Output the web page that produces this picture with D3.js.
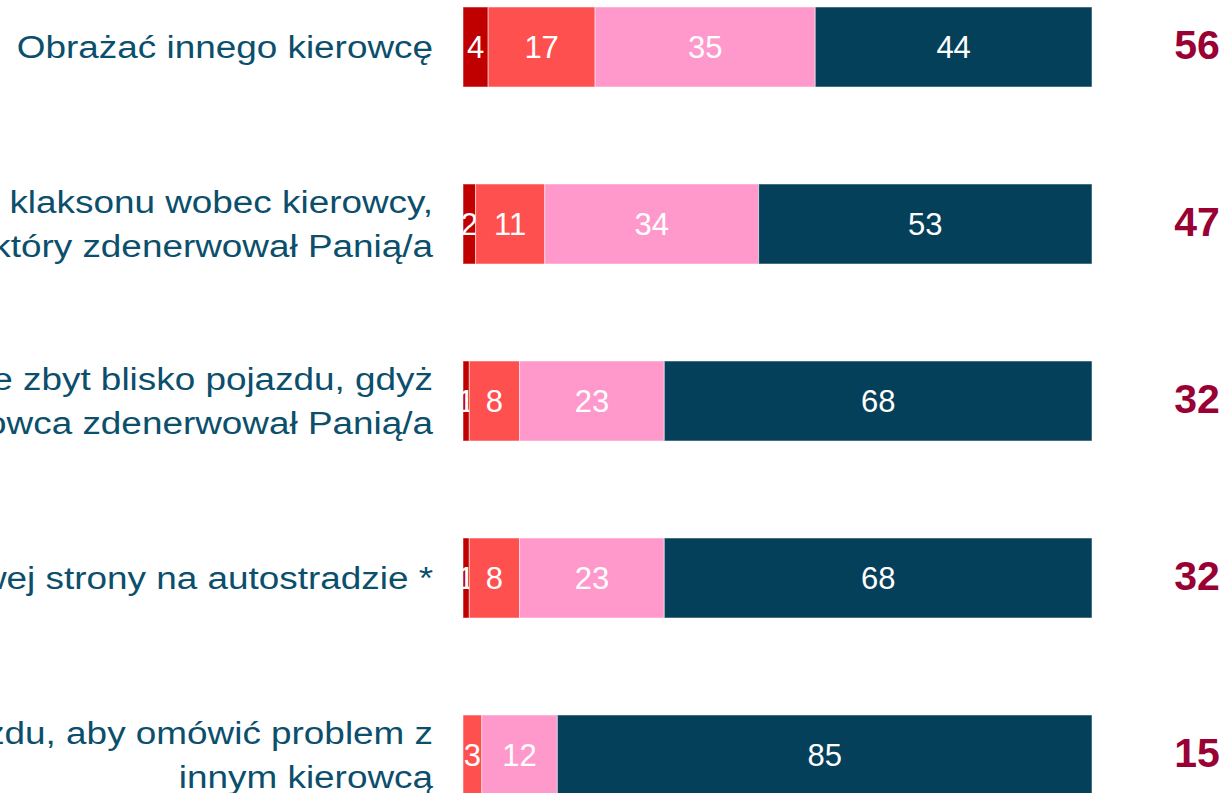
<!DOCTYPE html>
<html>
<head>
<meta charset="utf-8">
<script src="https://cdn.jsdelivr.net/npm/d3@7"></script>
<style>
  body { margin: 0; background: #fff; }
  svg { display: block; font-family: "Liberation Sans", Arial, sans-serif; }
</style>
</head>
<body>
<div id="chart"></div>
<script>
// Set dimensions
const width = 1230;
const height = 793;

// Data
const categories = [
  ["Obrażać innego kierowcę"],
  ["Używać klaksonu wobec kierowcy,", "który zdenerwował Panią/a"],
  ["Jechać specjalnie zbyt blisko pojazdu, gdyż", "jego kierowca zdenerwował Panią/a"],
  ["Wyprzedzać z prawej strony na autostradzie *"],
  ["Zatrzymać się i wysiąść z pojazdu, aby omówić problem z", "innym kierowcą"]
];
const often = [4, 2, 1, 1, 0];
const sometimes = [17, 11, 8, 8, 3];
const rarely = [35, 34, 23, 23, 12];
const never = [44, 53, 68, 68, 85];
const totals = [56, 47, 32, 32, 15];

const seriesKeys = ["often", "sometimes", "rarely", "never"];
const colors = ["#C00000", "#FF5050", "#FF99CC", "#05405A"];

const rows = categories.map((c, i) => ({
  idx: i,
  often: often[i], sometimes: sometimes[i], rarely: rarely[i], never: never[i]
}));

const svg = d3.select("#chart")
  .append("svg")
  .attr("width", width)
  .attr("height", height);

const x = d3.scaleLinear().domain([0, 100]).range([463, 1092]);
const y = d3.scaleBand()
  .domain(d3.range(categories.length))
  .range([7, 795])
  .paddingInner(0.548)
  .paddingOuter(0);

const stack = d3.stack().keys(seriesKeys);
const layers = stack(rows);

const layer = svg.selectAll("g.layer")
  .data(layers)
  .enter()
  .append("g")
  .attr("fill", (d, i) => colors[i]);

layer.selectAll("rect")
  .data(d => d.filter(s => s[1] - s[0] > 0))
  .enter()
  .append("rect")
  .attr("x", d => x(d[0]))
  .attr("y", d => y(d.data.idx))
  .attr("width", d => x(d[1]) - x(d[0]))
  .attr("height", y.bandwidth())
  .attr("stroke", "#fff")
  .attr("stroke-opacity", 0.5)
  .attr("stroke-width", 1);

// Value labels inside segments
layer.selectAll("text")
  .data(d => d.filter(s => s[1] - s[0] > 0))
  .enter()
  .append("text")
  .attr("x", d => (x(d[0]) + x(d[1])) / 2)
  .attr("y", d => y(d.data.idx) + y.bandwidth() / 2)
  .attr("dy", "0.34em")
  .attr("text-anchor", "middle")
  .attr("fill", "#fff")
  .style("font-size", "31px")
  .text(d => d[1] - d[0]);

// Category labels (text in the slide is a bit wider than Arial, so stretch it)
const labels = svg.selectAll("text.cat")
  .data(categories)
  .enter()
  .append("text")
  .attr("class", "cat")
  .attr("text-anchor", "end")
  .attr("fill", "#0B4F6C")
  .style("font-size", "31px")
  .attr("transform", (d, i) => `translate(433,${y(i) + y.bandwidth() / 2}) scale(1.19,1)`);

labels.each(function(lines) {
  const lh = 44;
  const start = -(lines.length - 1) * lh / 2;
  d3.select(this).selectAll("tspan")
    .data(lines)
    .enter()
    .append("tspan")
    .attr("x", 0)
    .attr("y", (d, j) => start + j * lh)
    .attr("dy", "0.34em")
    .text(d => d);
});

// Totals on the right
svg.selectAll("text.total")
  .data(totals)
  .enter()
  .append("text")
  .attr("class", "total")
  .attr("x", 1197)
  .attr("y", (d, i) => y(i) + y.bandwidth() / 2)
  .attr("dy", "0.3em")
  .attr("text-anchor", "middle")
  .attr("fill", "#990033")
  .style("font-size", "41px")
  .style("font-weight", "bold")
  .text(d => d);
</script>
</body>
</html>
